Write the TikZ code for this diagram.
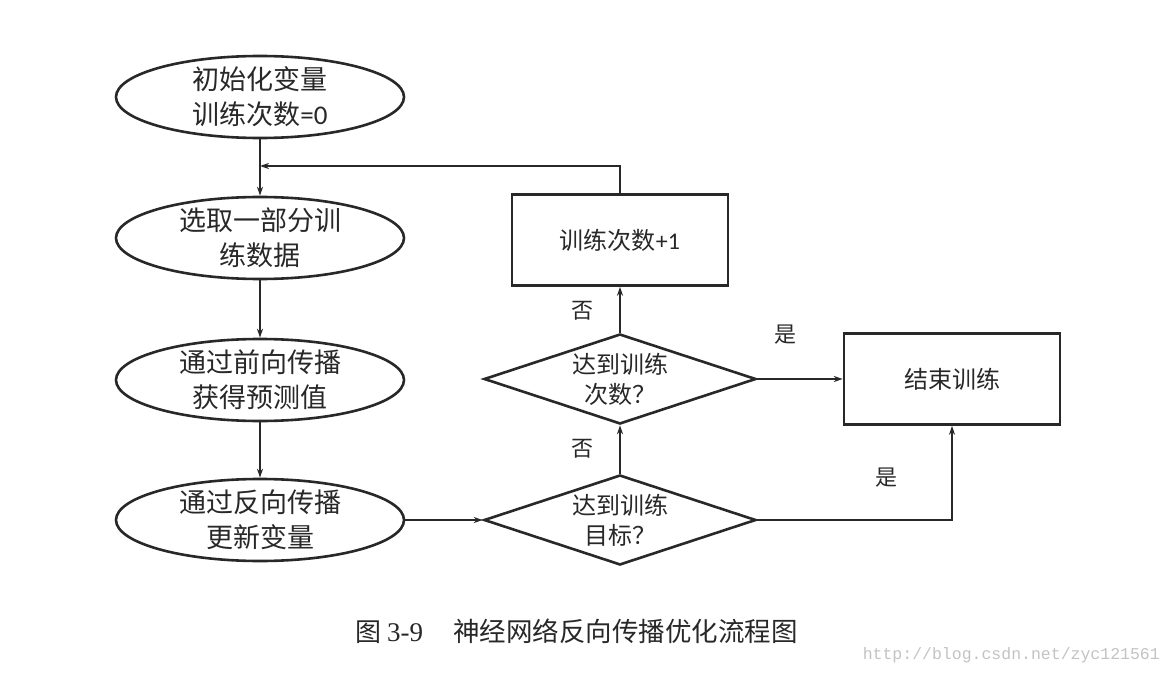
\documentclass[tikz,border=0pt]{standalone}
\usepackage{fontspec}
\setmainfont{Liberation Serif}
\newfontfamily\cjk{Noto Sans CJK SC}
\newfontfamily\lat{Carlito}
\newfontfamily\wm{Liberation Mono}
\usetikzlibrary{shapes.geometric,arrows.meta}
\definecolor{ink}{RGB}{40,40,40}
\definecolor{wmgray}{RGB}{195,195,195}
\begin{document}
\begin{tikzpicture}[x=1pt,y=-1pt,
  shapeline/.style={draw=ink,line width=2.6pt},
  oval/.style={shapeline,ellipse,minimum width=288pt,minimum height=82pt,inner sep=0pt},
  box/.style={shapeline,rectangle,minimum width=216pt,minimum height=91pt,inner sep=0pt},
  decide/.style={shapeline,diamond,minimum width=272pt,minimum height=90pt,inner sep=0pt},
  txt/.style={font={\cjk\fontsize{27}{35}\selectfont},align=center,text=ink,inner sep=0pt},
  dtxt/.style={font={\cjk\fontsize{24}{30}\selectfont},align=center,text=ink,inner sep=0pt},
  lbl/.style={font={\cjk\fontsize{22}{26}\selectfont},text=ink,inner sep=0pt},
  conn/.style={draw=ink,line width=1.6pt,-{Stealth[length=9pt,width=6pt]}},
  plain/.style={draw=ink,line width=1.6pt}]
\useasboundingbox (0,0) rectangle (1168,674);
\fill[white] (0,0) rectangle (1168,674);

% ellipses
\node[oval] (e1) at (260,97) {};
\node[txt] (e1t) at (e1.center) {初始化变量\\训练次数{\lat =0}};
\node[oval] (e2) at (260,238) {};
\node[txt] (e2t) at (e2.center) {选取一部分训\\练数据};
\node[oval] (e3) at (260,380) {};
\node[txt] (e3t) at (e3.center) {通过前向传播\\获得预测值};
\node[oval] (e4) at (260,520) {};
\node[txt] (e4t) at (e4.center) {通过反向传播\\更新变量};

% boxes
\node[box] (r1) at (620,240) {};
\node[dtxt] (r1t) at (r1.center) {训练次数{\lat +1}};
\node[box] (r2) at (952,379) {};
\node[dtxt] (r2t) at (r2.center) {结束训练};

% diamonds
\node[decide] (d1) at (620,379) {};
\node[dtxt] (d1t) at (d1.center) {达到训练\\次数？};
\node[decide] (d2) at (620,520) {};
\node[dtxt] (d2t) at (d2.center) {达到训练\\目标？};

% merge point
\coordinate (m) at (260,166);

% connectors
\draw[conn] (e1.south) -- (e2.north);
\draw[conn] (r1.north) |- (m);
\draw[conn] (e2.south) -- (e3.north);
\draw[conn] (e3.south) -- (e4.north);
\draw[conn] (e4.east) -- (d2.west);
\draw[conn] (d2.north) -- (d1.south);
\draw[conn] (d1.north) -- (r1.south);
\draw[conn] (d1.east) -- (r2.west);
\draw[conn] (d2.east) -| (r2.south);

% labels
\node[lbl] (n1) at (582,311) {否};
\node[lbl] (n2) at (582,449) {否};
\node[lbl] (y1) at (785,335) {是};
\node[lbl] (y2) at (886,478) {是};

% caption
\node[anchor=west,inner sep=0pt,text=ink] (cap) at (355,631)
  {{\cjk\fontsize{26}{30}\selectfont 图}\hspace{6pt}{\fontsize{27}{30}\selectfont 3-9}\hspace{30pt}{\cjk\fontsize{26.5}{30}\selectfont 神经网络反向传播优化流程图}};
\node[anchor=east,inner sep=0pt,text=wmgray,font={\wm\fontsize{16.5}{20}\selectfont}] (wmk) at (1160,655) {http://blog.csdn.net/zyc121561};
\end{tikzpicture}
\end{document}
